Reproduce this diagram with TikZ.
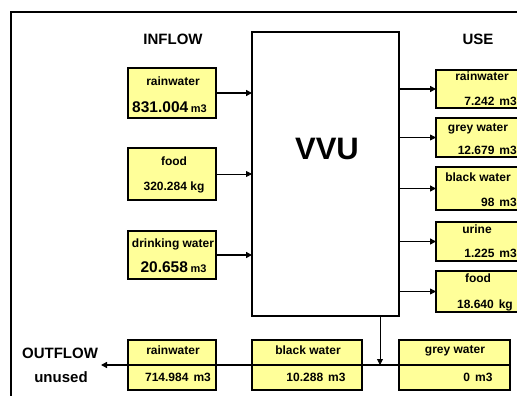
\documentclass[tikz,border=0pt]{standalone}
\usepackage{fontspec}
\setmainfont{Liberation Sans}
\usetikzlibrary{arrows.meta}
\definecolor{boxyellow}{RGB}{255,255,153}
\begin{document}
\begin{tikzpicture}[x=1pt,y=-1pt,
  flowbox/.style={draw=black, line width=1.3pt, fill=boxyellow, anchor=north west, inner sep=0pt, outer sep=0pt},
  ttl/.style={font=\fontsize{15}{15}\selectfont\bfseries, inner sep=0pt, anchor=base},
  lbl/.style={font=\fontsize{12}{12}\selectfont\bfseries, inner sep=0pt, anchor=base},
  bignum/.style={font=\fontsize{15.5}{16}\selectfont\bfseries, inner sep=0pt, anchor=base},
  thickflow/.style={line width=1.5pt, -{Triangle[length=6pt,width=6pt]}},
  thinflow/.style={line width=0.8pt, -{Triangle[length=6pt,width=6pt]}}
]
\useasboundingbox (0,0) rectangle (517,396);
\begin{scope}
\clip (0,0) rectangle (517,396);
\fill[white] (0,0) rectangle (517,396);
\draw[line width=1.3pt] (11,12) rectangle (540,420);

% titles
\node[ttl] (tIn) at (173,44.5) {INFLOW};
\node[ttl] (tUse) at (478,44.5) {USE};
\node[ttl] (tOut) at (60,358.5) {OUTFLOW};
\node[ttl] (tUnused) at (61,382) {unused};

% VVU
\node[draw=black, line width=1.8pt, fill=white, anchor=north west, minimum width=147pt, minimum height=284pt, inner sep=0pt, outer sep=0pt] (vvu) at (252,32) {};
\node[font=\fontsize{31}{31}\selectfont\bfseries, inner sep=0pt, anchor=base] (vvuText) at (327,159) {VVU};

% inflow boxes
\node[flowbox, minimum width=88pt, minimum height=50pt] (inRain) at (128,68) {};
\node[flowbox, minimum width=88pt, minimum height=52pt] (inFood) at (128,148) {};
\node[flowbox, minimum width=88pt, minimum height=48pt] (inDrink) at (128,231) {};
\node[lbl] (inRainL) at (173,85) {rainwater};
\node[bignum] (inRainN) at (169.5,112) {831.004\,{\fontsize{11}{11}\selectfont m3}};
\node[lbl] (inFoodL) at (174,165) {food};
\node[lbl] (inFoodN) at (174,190) {320.284 kg};
\node[lbl] (inDrinkL) at (173,247) {drinking water};
\node[bignum] (inDrinkN) at (173.5,272.5) {20.658\,{\fontsize{11}{11}\selectfont m3}};

% use boxes
\node[flowbox, minimum width=88pt, minimum height=38pt] (useRain) at (436,70) {};
\node[flowbox, minimum width=88pt, minimum height=39pt] (useGrey) at (436,118) {};
\node[flowbox, minimum width=88pt, minimum height=43pt] (useBlack) at (436,167) {};
\node[flowbox, minimum width=88pt, minimum height=39pt] (useUrine) at (436,222) {};
\node[flowbox, minimum width=88pt, minimum height=41pt] (useFood) at (436,271) {};
\node[lbl] (useRainL) at (482,81) {rainwater};
\node[lbl, anchor=base east] (useRainN) at (517,106) {7.242\hspace{5pt}m3};
\node[lbl] (useGreyL) at (478,131) {grey water};
\node[lbl, anchor=base east] (useGreyN) at (517,154) {12.679\hspace{5pt}m3};
\node[lbl] (useBlackL) at (478,181) {black water};
\node[lbl, anchor=base east] (useBlackN) at (517,206) {98\hspace{5pt}m3};
\node[lbl] (useUrineL) at (477,233.5) {urine};
\node[lbl, anchor=base east] (useUrineN) at (517,257) {1.225\hspace{5pt}m3};
\node[lbl] (useFoodL) at (478,282) {food};
\node[lbl, anchor=base east] (useFoodN) at (513,308) {18.640\hspace{5pt}kg};

% outflow boxes
\node[flowbox, minimum width=88pt, minimum height=50pt] (outRain) at (128,340) {};
\node[flowbox, minimum width=110pt, minimum height=50pt] (outBlack) at (252,340) {};
\node[flowbox, minimum width=111pt, minimum height=50pt] (outGrey) at (399,340) {};
\node[lbl] (outRainL) at (173,354) {rainwater};
\node[lbl] (outRainN) at (178,381) {714.984\hspace{5pt}m3};
\node[lbl] (outBlackL) at (308,354) {black water};
\node[lbl] (outBlackN) at (316,381) {10.288\hspace{5pt}m3};
\node[lbl] (outGreyL) at (455,353) {grey water};
\node[lbl] (outGreyN) at (478,381) {0\hspace{5pt}m3};

% inflow connectors
\draw[thickflow] (inRain.east) -- (inRain.east -| vvu.west);
\draw[thinflow] (inFood.east) -- (inFood.east -| vvu.west);
\draw[thickflow] (inDrink.east) -- (inDrink.east -| vvu.west);

% use connectors
\draw[thickflow] (vvu.east |- useRain.west) -- (useRain.west);
\draw[thinflow] (vvu.east |- useGrey.west) -- (useGrey.west);
\draw[thickflow] (vvu.east |- useBlack.west) -- (useBlack.west);
\draw[thickflow] (vvu.east |- useUrine.west) -- (useUrine.west);
\draw[thinflow] (vvu.east |- useFood.west) -- (useFood.west);

% outflow line
\coordinate (outEnd) at (101,365);
\coordinate (junction) at (380,365);
\draw[line width=1.5pt, -{Triangle[length=6pt,width=6pt]}] (outGrey.east) -- (outEnd);
\draw[thinflow] (vvu.south -| junction) -- (junction);
\end{scope}
\end{tikzpicture}
\end{document}
